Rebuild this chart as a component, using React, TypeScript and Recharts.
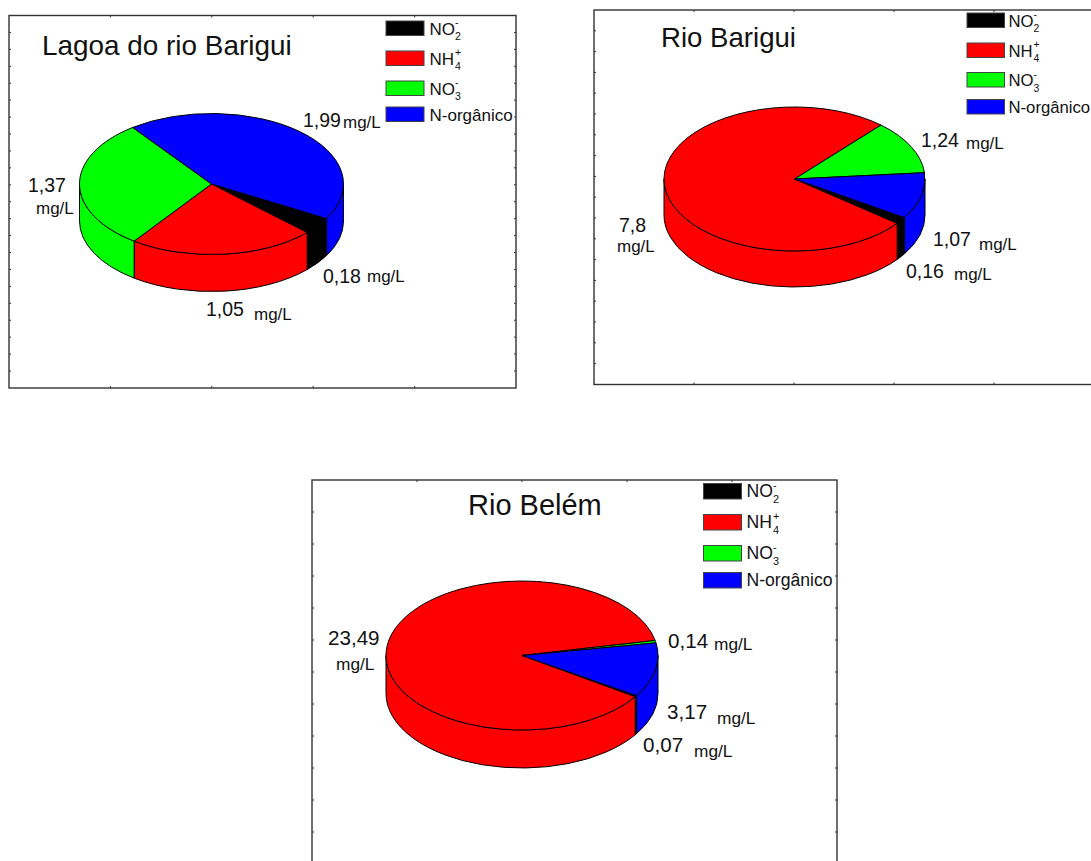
import { Pie, PieChart } from 'recharts'

const categories = ['NO2', 'NH4', 'NO3', 'N-orgânico']
const colors = ['#000000', '#ff0000', '#00ff00', '#0000ff']

// nitrogen fractions in mg/L, same order as categories
const lagoaValues = [0.18, 1.05, 1.37, 1.99]
const barigiuValues = [0.16, 7.8, 1.24, 1.07]
const belemValues = [0.07, 23.49, 0.14, 3.17]

const toRows = (values: number[]) =>
  values.map((value, i) => ({ name: categories[i], value, fill: colors[i] }))

const panels = [
  {
    title: 'Lagoa do rio Barigui',
    titleX: 42,
    titleY: 55,
    titleSize: 27.9,
    valueSize: 19.5,
    unitSize: 17,
    rows: toRows(lagoaValues),
    frame: { left: 9, top: 15.5, right: 516, bottom: 388, tickV: 16.93, tickH: 101.4 },
    pie: { cx: 211.5, cy: 184, rx: 132, ry: 70.5, depth: 37, start: 29.4 },
    legend: { x: 386, width: 38, height: 14.5, textDx: 43.5, fontSize: 17, rows: [21, 51, 81, 107] },
    // [value x, value baseline, unit x, unit baseline] per category
    labels: [
      [323, 283, 367, 282],
      [206, 316, 254, 320],
      [28, 192, 36, 214],
      [303, 127, 343, 128],
    ],
  },
  {
    title: 'Rio Barigui',
    titleX: 661,
    titleY: 47,
    titleSize: 27.6,
    valueSize: 19.5,
    unitSize: 17,
    rows: toRows(barigiuValues),
    frame: { left: 594, top: 10, right: 1100, bottom: 384.5, tickV: 20.8, tickH: 100 },
    pie: { cx: 794.5, cy: 179, rx: 130.5, ry: 72, depth: 36, start: 32.5 },
    legend: { x: 967, width: 37.5, height: 14.5, textDx: 41.5, fontSize: 16.7, rows: [13, 43, 72.5, 99.5] },
    labels: [
      [906, 278, 954, 280],
      [619, 232, 617, 252],
      [921, 147, 966, 149],
      [933, 246, 979, 250],
    ],
  },
  {
    title: 'Rio Belém',
    titleX: 468,
    titleY: 515,
    titleSize: 29,
    valueSize: 20.6,
    unitSize: 17.3,
    rows: toRows(belemValues),
    frame: { left: 312, top: 480, right: 837, bottom: 880, tickV: 32, tickH: 105 },
    pie: { cx: 522, cy: 655.5, rx: 136, ry: 74.5, depth: 38, start: 32.7 },
    legend: { x: 703.5, width: 38, height: 15.5, textDx: 43, fontSize: 17.6, rows: [483.5, 514.5, 545.5, 572.5] },
    labels: [
      [643, 752, 694, 757],
      [328, 645, 336, 670],
      [668, 648, 714, 650],
      [667, 719, 717, 724],
    ],
  },
]

const FONT = '"Liberation Sans", Arial, sans-serif'

// Pie slice drawn on a tilted disc: elliptical top face plus the visible rim below it
function TiltedSlice(props: any) {
  const { cx, cy, startAngle, endAngle, fill, ry, depth, outerRadius: rx } = props
  const a0 = -startAngle
  const a1 = -endAngle
  const at = (deg: number, dy = 0) => {
    const t = (deg * Math.PI) / 180
    return `${cx + rx * Math.cos(t)} ${cy + ry * Math.sin(t) + dy}`
  }

  // only the front half of the rim shows (0..180 on screen, every full turn)
  const rims: [number, number][] = []
  for (let k = -2; k <= 2; k++) {
    const from = Math.max(a0, 360 * k)
    const to = Math.min(a1, 360 * k + 180)
    if (to > from) rims.push([from, to])
  }

  const large = a1 - a0 > 180 ? 1 : 0
  return (
    <g stroke="#000" strokeWidth={1} strokeLinejoin="round">
      {rims.map(([from, to]) => (
        <path
          key={from}
          fill={fill}
          d={`M${at(from)} A${rx} ${ry} 0 0 1 ${at(to)} L${at(to, depth)} A${rx} ${ry} 0 0 0 ${at(from, depth)} Z`}
        />
      ))}
      <path fill={fill} d={`M${cx} ${cy} L${at(a0)} A${rx} ${ry} 0 ${large} 1 ${at(a1)} Z`} />
    </g>
  )
}

function Frame({ left, top, right, bottom, tickV, tickH }: any) {
  const ticks = []
  for (let y = top + tickV; y < Math.min(bottom - 1, 861); y += tickV) {
    ticks.push(<line key={`l${y}`} x1={left} x2={left + 2} y1={y} y2={y} />)
    ticks.push(<line key={`r${y}`} x1={right - 2} x2={right} y1={y} y2={y} />)
  }
  for (let x = left + tickH; x < right - 1; x += tickH) {
    ticks.push(<line key={`t${x}`} x1={x} x2={x} y1={top} y2={top + 2} />)
    ticks.push(<line key={`b${x}`} x1={x} x2={x} y1={bottom - 2} y2={bottom} />)
  }
  return (
    <g stroke="#333" fill="none">
      <rect x={left} y={top} width={right - left} height={bottom - top} strokeWidth={1.4} />
      <g strokeWidth={1}>{ticks}</g>
    </g>
  )
}

// Ion names carry a charge above and a count below, stacked at the same x
const ions: Record<string, { base: string; sup: string; sub: string }> = {
  NO2: { base: 'NO', sup: '-', sub: '2' },
  NH4: { base: 'NH', sup: '+', sub: '4' },
  NO3: { base: 'NO', sup: '-', sub: '3' },
}

function ChemLegend({ x, width, height, textDx, fontSize, rows }: any) {
  return (
    <g fontFamily={FONT} fill="#111">
      {categories.map((name, i) => {
        const y = rows[i]
        const ion = ions[name]
        const small = fontSize * 0.62
        const stackX = x + textDx + fontSize * 1.5
        return (
          <g key={name}>
            <rect x={x} y={y} width={width} height={height} fill={colors[i]} stroke="#444" strokeWidth={1} />
            <text x={x + textDx} y={y + 13.5} fontSize={fontSize}>
              {ion ? ion.base : name}
            </text>
            {ion && (
              <>
                <text x={stackX} y={y + 5} fontSize={small}>{ion.sup}</text>
                <text x={stackX} y={y + 19} fontSize={small}>{ion.sub}</text>
              </>
            )}
          </g>
        )
      })}
    </g>
  )
}

const valueLabel = (positions: number[][], valueSize: number, unitSize: number) => (props: any) => {
  const [vx, vy, ux, uy] = positions[props.index]
  return (
    <g fontFamily={FONT} fill="#111" stroke="none">
      <text x={vx} y={vy} fontSize={valueSize}>{String(props.value).replace('.', ',')}</text>
      <text x={ux} y={uy} fontSize={unitSize}>mg/L</text>
    </g>
  )
}

export default function App() {
  return (
    <div style={{ position: 'absolute', left: 0, top: 0, width: 1091, height: 861, overflow: 'hidden', background: '#fff' }}>
      <PieChart width={1091} height={861} margin={{ top: 0, right: 0, bottom: 0, left: 0 }}>
        {panels.map((p) => (
          <Frame key={p.title} {...p.frame} />
        ))}
        {panels.map((p) => (
          <text key={p.title} x={p.titleX} y={p.titleY} fontFamily={FONT} fontSize={p.titleSize} fill="#111">
            {p.title}
          </text>
        ))}
        {panels.map((p) => (
          <ChemLegend key={p.title} {...p.legend} />
        ))}
        {panels.map((p) => (
          <Pie
            key={p.title}
            data={p.rows}
            dataKey="value"
            nameKey="name"
            cx={p.pie.cx}
            cy={p.pie.cy}
            innerRadius={0}
            outerRadius={p.pie.rx}
            startAngle={-p.pie.start}
            endAngle={-p.pie.start - 360}
            isAnimationActive={false}
            labelLine={false}
            label={valueLabel(p.labels, p.valueSize, p.unitSize)}
            shape={(s: any) => <TiltedSlice {...s} ry={p.pie.ry} depth={p.pie.depth} />}
          />
        ))}
      </PieChart>
    </div>
  )
}
